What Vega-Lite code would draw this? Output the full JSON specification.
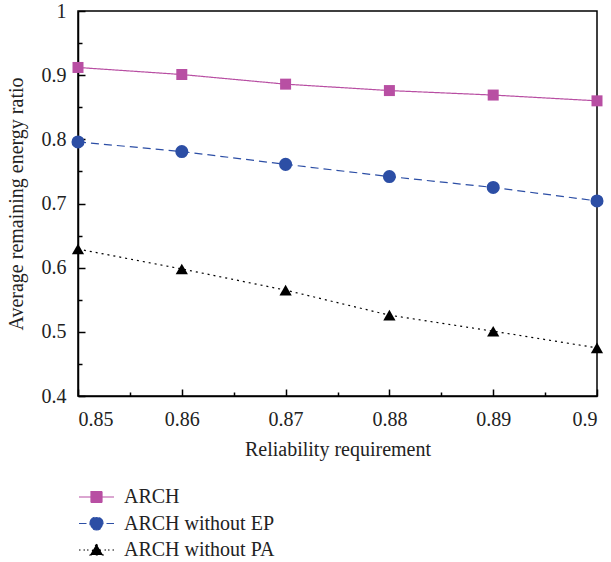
{
  "$schema": "https://vega.github.io/schema/vega-lite/v6.json",
  "width": 519,
  "height": 385,
  "autosize": {"type": "none"},
  "padding": {"left": 78, "top": 11, "right": 14, "bottom": 166},
  "config": {
    "font": "Liberation Serif",
    "view": {"stroke": "#000", "strokeWidth": 1.5},
    "axis": {
      "grid": false,
      "domainColor": "#000",
      "domainWidth": 1.5,
      "tickColor": "#000",
      "tickWidth": 1.5,
      "labelFont": "Liberation Serif",
      "labelFontSize": 20,
      "labelColor": "#222",
      "titleFont": "Liberation Serif",
      "titleFontSize": 20,
      "titleFontWeight": "normal",
      "titleColor": "#222"
    }
  },
  "data": {
    "values": [
      {"series": "ARCH", "x": 0.85, "y": 0.912},
      {"series": "ARCH", "x": 0.86, "y": 0.901},
      {"series": "ARCH", "x": 0.87, "y": 0.886},
      {"series": "ARCH", "x": 0.88, "y": 0.876},
      {"series": "ARCH", "x": 0.89, "y": 0.869},
      {"series": "ARCH", "x": 0.9, "y": 0.86},
      {"series": "ARCH without EP", "x": 0.85, "y": 0.796},
      {"series": "ARCH without EP", "x": 0.86, "y": 0.781},
      {"series": "ARCH without EP", "x": 0.87, "y": 0.761},
      {"series": "ARCH without EP", "x": 0.88, "y": 0.742},
      {"series": "ARCH without EP", "x": 0.89, "y": 0.725},
      {"series": "ARCH without EP", "x": 0.9, "y": 0.704},
      {"series": "ARCH without PA", "x": 0.85, "y": 0.629},
      {"series": "ARCH without PA", "x": 0.86, "y": 0.598},
      {"series": "ARCH without PA", "x": 0.87, "y": 0.565},
      {"series": "ARCH without PA", "x": 0.88, "y": 0.526},
      {"series": "ARCH without PA", "x": 0.89, "y": 0.501},
      {"series": "ARCH without PA", "x": 0.9, "y": 0.475}
    ]
  },
  "resolve": {"axis": {"x": "independent", "y": "independent"}},
  "layer": [
    {
      "mark": {"type": "point", "opacity": 0},
      "encoding": {
        "x": {"field": "x", "type": "quantitative", "scale": {"domain": [0.85, 0.9], "nice": false, "zero": false},
          "axis": {"orient": "bottom", "values": [0.855, 0.865, 0.875, 0.885, 0.895], "labels": false, "title": null, "tickSize": -4, "domain": false}},
        "y": {"field": "y", "type": "quantitative", "scale": {"domain": [0.4, 1], "nice": false, "zero": false},
          "axis": {"orient": "left", "values": [0.45, 0.55, 0.65, 0.75, 0.85, 0.95], "labels": false, "title": null, "tickSize": -4, "domain": false}}
      }
    },
    {
      "mark": {"type": "line", "strokeWidth": 1.2, "clip": false},
      "encoding": {
        "x": {"field": "x", "type": "quantitative", "scale": {"domain": [0.85, 0.9], "nice": false, "zero": false},
          "axis": {"orient": "bottom", "values": [0.85, 0.86, 0.87, 0.88, 0.89, 0.9], "format": "~g", "tickSize": -7, "labelPadding": 20, "title": "Reliability requirement", "titlePadding": 10}},
        "y": {"field": "y", "type": "quantitative", "scale": {"domain": [0.4, 1], "nice": false, "zero": false},
          "axis": {"orient": "left", "values": [0.4, 0.5, 0.6, 0.7, 0.8, 0.9, 1], "format": "~g", "tickSize": -7, "labelPadding": 19, "title": "Average remaining energy ratio", "titlePadding": 15}},
        "color": {
          "field": "series", "type": "nominal",
          "scale": {"domain": ["ARCH", "ARCH without EP", "ARCH without PA"], "range": ["#b84fa3", "#2c4ea5", "#000000"]},
          "legend": {
            "title": null,
            "orient": "none",
            "legendX": 7.5,
            "legendY": 475,
            "direction": "vertical",
            "padding": 0,
            "symbolSize": 400,
            "symbolStrokeWidth": 1.2,
            "labelOffset": 16.5,
            "rowPadding": 5.5,
            "labelFont": "Liberation Serif",
            "labelFontSize": 20,
            "labelColor": "#222",
            "encode": {
              "symbols": {
                "update": {
                  "shape": {"signal": "datum.value === 'ARCH' ? 'M-1.75,0H1.75M-0.55,-0.55H0.55V0.55H-0.55Z' : datum.value === 'ARCH without EP' ? 'M-1.75,0H-1.0M1.0,0H1.75M-0.65,0A0.65,0.65,0,1,1,0.65,0A0.65,0.65,0,1,1,-0.65,0Z' : 'M-1.75,0H-1.6M-1.3,0H-1.15M-0.95,0H-0.8M0.8,0H0.95M1.15,0H1.3M1.6,0H1.75M0,-0.6L0.65,0.5L-0.65,0.5Z'"},
                  "fill": {"signal": "datum.value === 'ARCH' ? '#b84fa3' : datum.value === 'ARCH without EP' ? '#2c4ea5' : '#000000'"},
                  "fillOpacity": {"value": 1},
                  "opacity": {"value": 1}
                }
              }
            }
          }
        },
        "strokeDash": {
          "field": "series", "type": "nominal",
          "scale": {"domain": ["ARCH", "ARCH without EP", "ARCH without PA"], "range": [[1, 0], [8, 5], [2, 4]]},
          "legend": null
        }
      }
    },
    {
      "transform": [{"filter": "datum.series === 'ARCH'"}],
      "mark": {"type": "point", "filled": true, "opacity": 1, "clip": false, "shape": "square", "size": 121, "color": "#b84fa3"},
      "encoding": {
        "x": {"field": "x", "type": "quantitative", "scale": {"domain": [0.85, 0.9], "nice": false, "zero": false}, "axis": null},
        "y": {"field": "y", "type": "quantitative", "scale": {"domain": [0.4, 1], "nice": false, "zero": false}, "axis": null}
      }
    },
    {
      "transform": [{"filter": "datum.series === 'ARCH without EP'"}],
      "mark": {"type": "point", "filled": true, "opacity": 1, "clip": false, "shape": "circle", "size": 170, "color": "#2c4ea5"},
      "encoding": {
        "x": {"field": "x", "type": "quantitative", "scale": {"domain": [0.85, 0.9], "nice": false, "zero": false}, "axis": null},
        "y": {"field": "y", "type": "quantitative", "scale": {"domain": [0.4, 1], "nice": false, "zero": false}, "axis": null}
      }
    },
    {
      "transform": [{"filter": "datum.series === 'ARCH without PA'"}],
      "mark": {"type": "point", "filled": true, "opacity": 1, "clip": false, "shape": "triangle-up", "size": 150, "color": "#000000"},
      "encoding": {
        "x": {"field": "x", "type": "quantitative", "scale": {"domain": [0.85, 0.9], "nice": false, "zero": false}, "axis": null},
        "y": {"field": "y", "type": "quantitative", "scale": {"domain": [0.4, 1], "nice": false, "zero": false}, "axis": null}
      }
    }
  ]
}
